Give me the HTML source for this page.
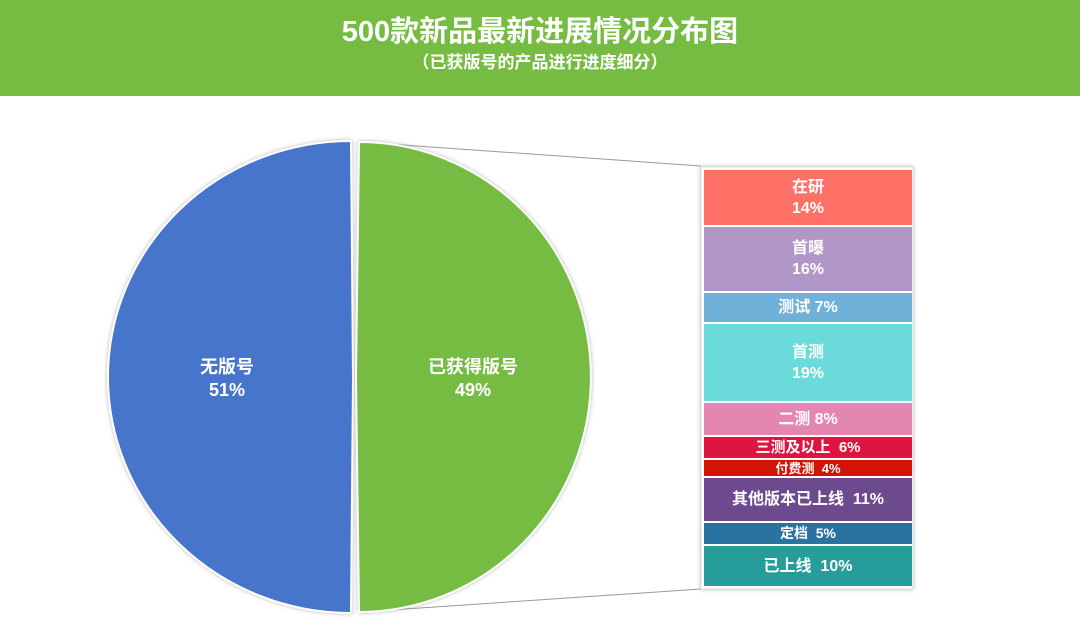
<!DOCTYPE html>
<html><head><meta charset="utf-8"><style>
body{margin:0;width:1080px;height:643px;background:#fff;overflow:hidden;font-family:"Liberation Sans","Noto Sans CJK SC",sans-serif}
.hdr{position:absolute;left:0;top:0;width:1080px;height:96px;background:#76bc43;color:#fff;text-align:center;font-weight:bold}
.t1{position:absolute;top:12px;width:100%;font-size:29px;line-height:40px}
.t2{position:absolute;top:52px;width:100%;font-size:17px;line-height:22px}
.seg{position:absolute;left:704px;width:208px;color:#fff;font-weight:bold;text-align:center;display:flex;align-items:center;justify-content:center;line-height:21px}
</style></head><body>
<div class="hdr"><div class="t1">500款新品最新进展情况分布图</div><div class="t2">（已获版号的产品进行进度细分）</div></div>
<svg width="1080" height="643" style="position:absolute;left:0;top:0">
<defs><filter id="sh" x="-10%" y="-10%" width="120%" height="120%"><feDropShadow dx="0" dy="0" stdDeviation="2" flood-color="#888" flood-opacity="0.6"/></filter></defs>
<line x1="360" y1="142" x2="701" y2="166" stroke="#999" stroke-width="1"/>
<line x1="360" y1="612" x2="701" y2="589" stroke="#999" stroke-width="1"/>
<path d="M351,141 A243,236 0 0 0 351,613 L353,377 Z" fill="#4774cb" stroke="#fff" stroke-width="2" filter="url(#sh)"/>
<path d="M359,142 A232,235 0 0 1 359,612 L356,377 Z" fill="#76bc43" stroke="#fff" stroke-width="2" filter="url(#sh)"/>
<rect x="701" y="167" width="212" height="422" fill="#fff" stroke="#ddd" stroke-width="1" filter="url(#sh)"/>
<text x="227" y="373" fill="#fff" font-size="18" font-weight="bold" text-anchor="middle" font-family="Liberation Sans, Noto Sans CJK SC, sans-serif">无版号</text>
<text x="227" y="396" fill="#fff" font-size="18" font-weight="bold" text-anchor="middle" font-family="Liberation Sans, Noto Sans CJK SC, sans-serif">51%</text>
<text x="473" y="373" fill="#fff" font-size="18" font-weight="bold" text-anchor="middle" font-family="Liberation Sans, Noto Sans CJK SC, sans-serif">已获得版号</text>
<text x="473" y="396" fill="#fff" font-size="18" font-weight="bold" text-anchor="middle" font-family="Liberation Sans, Noto Sans CJK SC, sans-serif">49%</text>
</svg>
<div class="seg" style="top:170px;height:55px;background:#ff7166;font-size:16px">在研<br>14%</div>
<div class="seg" style="top:227px;height:64px;background:#b196c8;font-size:16px">首曝<br>16%</div>
<div class="seg" style="top:293px;height:29px;background:#70b1da;font-size:16px">测试 7%</div>
<div class="seg" style="top:324px;height:77px;background:#6bdada;font-size:16px">首测<br>19%</div>
<div class="seg" style="top:403px;height:32px;background:#e486b2;font-size:16px">二测 8%</div>
<div class="seg" style="top:437px;height:21px;background:#de1540;font-size:15px">三测及以上&nbsp; 6%</div>
<div class="seg" style="top:460px;height:16px;background:#d21407;font-size:13px">付费测&nbsp; 4%</div>
<div class="seg" style="top:478px;height:43px;background:#6d4a8e;font-size:16px">其他版本已上线&nbsp; 11%</div>
<div class="seg" style="top:523px;height:21px;background:#2a72a0;font-size:14px">定档&nbsp; 5%</div>
<div class="seg" style="top:546px;height:40px;background:#279d9b;font-size:16px">已上线&nbsp; 10%</div>
</body></html>
